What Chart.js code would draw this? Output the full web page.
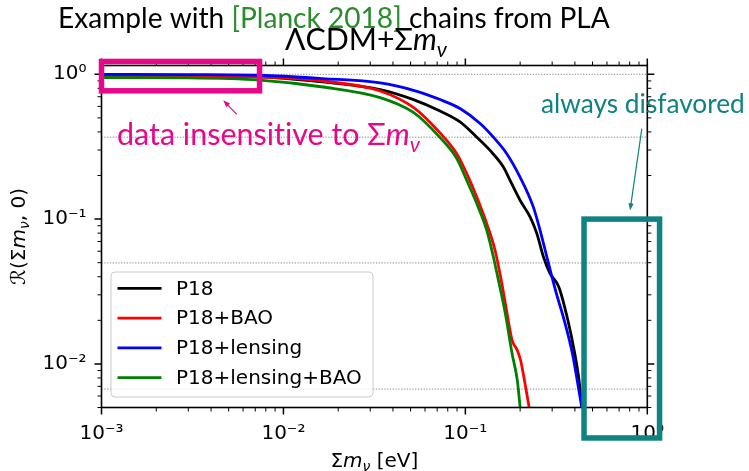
<!DOCTYPE html>
<html>
<head>
<meta charset="utf-8">
<script src="https://cdn.jsdelivr.net/npm/chart.js@4.4.0/dist/chart.umd.min.js"></script>
<style>
  html, body { margin: 0; padding: 0; background: #ffffff; }
  #wrap { width: 749px; height: 471px; }
</style>
</head>
<body>
<div id="wrap"><canvas id="chart" width="749" height="471"></canvas></div>
<script>
// Normalised ratio R(Σmν, 0) against the summed neutrino mass Σmν [eV]
const p18Mass  = [0.001, 0.003, 0.0074, 0.0165, 0.034, 0.0518, 0.0726, 0.0935, 0.1155, 0.1367, 0.1618, 0.1761, 0.1998, 0.2268, 0.2469, 0.2685, 0.2922, 0.3263, 0.3657, 0.3993, 0.4216, 0.4378];
const p18Ratio = [0.975, 0.972, 0.962, 0.885, 0.784, 0.669, 0.558, 0.469, 0.368, 0.298, 0.229, 0.185, 0.135, 0.1035, 0.0797, 0.0550, 0.0421, 0.0340, 0.0201, 0.0118, 0.0077, 0.0049];

const baoMass  = [0.001, 0.003, 0.0074, 0.0165, 0.034, 0.0518, 0.0726, 0.0897, 0.1018, 0.1155, 0.1311, 0.1456, 0.1586, 0.1658, 0.1806, 0.1930, 0.2012, 0.2108, 0.2249];
const baoRatio = [0.975, 0.972, 0.958, 0.899, 0.767, 0.590, 0.393, 0.283, 0.206, 0.142, 0.093, 0.0609, 0.036, 0.0262, 0.0146, 0.0124, 0.0106, 0.0078, 0.0049];

const lensMass  = [0.001, 0.003, 0.0074, 0.0165, 0.034, 0.0518, 0.0726, 0.0935, 0.1205, 0.1425, 0.1689, 0.1998, 0.2365, 0.2575, 0.2839, 0.3152, 0.3495, 0.3876, 0.4180, 0.4378];
const lensRatio = [1.0, 0.995, 0.985, 0.934, 0.871, 0.775, 0.669, 0.580, 0.457, 0.368, 0.283, 0.195, 0.121, 0.0837, 0.0516, 0.0312, 0.0200, 0.0118, 0.0069, 0.0049];

const lensBaoMass  = [0.001, 0.003, 0.0074, 0.0165, 0.034, 0.0518, 0.0726, 0.0897, 0.1018, 0.1155, 0.1311, 0.1425, 0.1499, 0.1658, 0.1806, 0.1930, 0.2004];
const lensBaoRatio = [0.95, 0.945, 0.912, 0.817, 0.690, 0.545, 0.365, 0.262, 0.185, 0.128, 0.0837, 0.0550, 0.041, 0.0223, 0.0118, 0.0077, 0.0049];

const seriesLabels = ['P18', 'P18+BAO', 'P18+lensing', 'P18+lensing+BAO'];
const seriesColors = ['#000000', '#ff0000', '#0000ff', '#008000'];

// Reference levels exp(0), exp(-1), exp(-3), exp(-5)
const referenceLevels = [1, 0.3679, 0.0498, 0.0067];

// Axis ranges and decade tick positions
const massRange  = [0.001, 1];
const ratioRange = [0.005, 1.15];
const massDecades  = [0.001, 0.01, 0.1, 1];
const ratioDecades = [0.01, 0.1, 1];

// Highlighted regions, in data units: [Σmν low, Σmν high], [R low, R high]
const insensitiveRegion = { mass: [0.001, 0.00739], ratio: [0.769, 1.226] };
const disfavoredRegion  = { mass: [0.449, 1.168], ratio: [0.00308, 0.1] };

const SERIF_LIKE = "Lato, 'Open Sans', sans-serif";
const HEAD_WEIGHT = '';
const MATH_FONT = "'DejaVu Sans'";
const MAGENTA = '#e6078a';
const TEAL = '#0f8282';
const PLANCK_GREEN = '#2a8c2a';

const SUP = { '-': '\u207B', '0': '\u2070', '1': '\u00B9', '2': '\u00B2', '3': '\u00B3', '4': '\u2074', '5': '\u2075', '6': '\u2076', '7': '\u2077', '8': '\u2078', '9': '\u2079' };
function decadeLabel(v) {
  const e = String(Math.round(Math.log10(v)));
  return '10' + e.split('').map(c => SUP[c]).join('');
}

const toPoints = (xs, ys) => xs.map((x, i) => ({ x, y: ys[i] }));
const seriesData = [
  toPoints(p18Mass, p18Ratio),
  toPoints(baoMass, baoRatio),
  toPoints(lensMass, lensRatio),
  toPoints(lensBaoMass, lensBaoRatio)
];

const datasets = [];
referenceLevels.forEach(level => {
  datasets.push({
    label: '',
    data: [{ x: massRange[0], y: level }, { x: massRange[1], y: level }],
    borderColor: '#8a8a8a',
    borderWidth: 1,
    borderDash: [1.3, 1.5],
    pointRadius: 0,
    order: 10
  });
});
seriesData.forEach((pts, i) => {
  datasets.push({
    label: seriesLabels[i],
    data: pts,
    borderColor: seriesColors[i],
    backgroundColor: seriesColors[i],
    borderWidth: 2.8,
    pointRadius: 0,
    cubicInterpolationMode: 'monotone',
    order: 4 - i
  });
});

// ---- rich text helper (normal / italic / subscript runs) ----
function runFont(run, size, family, weight) {
  const s = run.sub ? size * 0.7 : size;
  return (run.italic ? 'italic ' : '') + (weight || '') + s + 'px ' + family;
}
function richWidth(ctx, runs, size, family, weight) {
  let w = 0;
  runs.forEach(r => { ctx.font = runFont(r, size, family, weight); w += ctx.measureText(r.t).width; });
  return w;
}
function drawRich(ctx, runs, x, y, size, family, color, align, weight) {
  const w = richWidth(ctx, runs, size, family, weight);
  let cx = align === 'center' ? x - w / 2 : x;
  ctx.textBaseline = 'alphabetic';
  ctx.textAlign = 'left';
  runs.forEach(r => {
    ctx.font = runFont(r, size, family, weight);
    ctx.fillStyle = r.color || color;
    ctx.fillText(r.t, cx, y + (r.sub ? size * 0.22 : 0));
    cx += ctx.measureText(r.t).width;
  });
}
// size a run list so it spans the given width
function sizeForWidth(ctx, runs, family, width, weight) {
  const base = 20;
  return base * width / richWidth(ctx, runs, base, family, weight);
}
function drawHeading(ctx, runs, x, y, width, color) {
  ctx.save();
  if ('textRendering' in ctx) ctx.textRendering = 'optimizeSpeed';
  const size = sizeForWidth(ctx, runs, SERIF_LIKE, width, HEAD_WEIGHT);
  drawRich(ctx, runs, x, y, size, SERIF_LIKE, color, 'left', HEAD_WEIGHT);
  ctx.restore();
}

function arrow(ctx, x0, y0, x1, y1, color) {
  const ang = Math.atan2(y1 - y0, x1 - x0);
  const len = 7, half = 2.6;
  ctx.strokeStyle = color;
  ctx.fillStyle = color;
  ctx.lineWidth = 1.2;
  ctx.beginPath();
  ctx.moveTo(x0, y0);
  ctx.lineTo(x1 - Math.cos(ang) * len * 0.8, y1 - Math.sin(ang) * len * 0.8);
  ctx.stroke();
  ctx.beginPath();
  ctx.moveTo(x1, y1);
  ctx.lineTo(x1 - Math.cos(ang) * len - Math.sin(ang) * half, y1 - Math.sin(ang) * len + Math.cos(ang) * half);
  ctx.lineTo(x1 - Math.cos(ang) * len + Math.sin(ang) * half, y1 - Math.sin(ang) * len - Math.cos(ang) * half);
  ctx.closePath();
  ctx.fill();
}

function minorValues(min, max) {
  const out = [];
  for (let e = Math.floor(Math.log10(min)); e <= Math.ceil(Math.log10(max)); e++) {
    for (let k = 1; k <= 9; k++) {
      const v = k * Math.pow(10, e);
      if (v >= min * 0.9999 && v <= max * 1.0001) out.push({ v, major: k === 1 });
    }
  }
  return out;
}

const decorations = {
  id: 'decorations',
  afterDraw(chart) {
    const { ctx, chartArea: a, scales: { x, y } } = chart;
    ctx.save();

    // frame
    ctx.strokeStyle = '#000';
    ctx.lineWidth = 1.6;
    ctx.strokeRect(a.left, a.top, a.right - a.left, a.bottom - a.top);

    // outward ticks on all four sides
    minorValues(massRange[0], massRange[1]).forEach(t => {
      const px = x.getPixelForValue(t.v);
      const L = t.major ? 7 : 4;
      ctx.lineWidth = t.major ? 1.5 : 1;
      ctx.beginPath();
      ctx.moveTo(px, a.bottom); ctx.lineTo(px, a.bottom + L);
      ctx.moveTo(px, a.top); ctx.lineTo(px, a.top - L);
      ctx.stroke();
    });
    minorValues(ratioRange[0], ratioRange[1]).forEach(t => {
      const py = y.getPixelForValue(t.v);
      const L = t.major ? 7 : 4;
      ctx.lineWidth = t.major ? 1.5 : 1;
      ctx.beginPath();
      ctx.moveTo(a.left, py); ctx.lineTo(a.left - L, py);
      ctx.moveTo(a.right, py); ctx.lineTo(a.right + L, py);
      ctx.stroke();
    });

    // legend, lower left inside the axes
    const lx = a.left + 9.5, lw = 262, lh = 125, ly = a.bottom - 10.5 - lh;
    ctx.beginPath();
    ctx.roundRect(lx, ly, lw, lh, 4);
    ctx.fillStyle = 'rgba(255,255,255,0.8)';
    ctx.fill();
    ctx.strokeStyle = '#cccccc';
    ctx.lineWidth = 1;
    ctx.stroke();
    seriesLabels.forEach((lab, i) => {
      const ry = ly + 16.3 + i * 29.8;
      ctx.strokeStyle = seriesColors[i];
      ctx.lineWidth = 2.8;
      ctx.beginPath();
      ctx.moveTo(lx + 6.5, ry); ctx.lineTo(lx + 50.5, ry);
      ctx.stroke();
      ctx.fillStyle = '#000';
      ctx.font = '20px ' + MATH_FONT;
      ctx.textAlign = 'left';
      ctx.textBaseline = 'middle';
      ctx.fillText(lab, lx + 65, ry + 1);
    });

    // axis titles
    const axisX = [{ t: '\u03A3' }, { t: 'm', italic: true }, { t: '\u03BD', italic: true, sub: true }, { t: ' [eV]' }];
    drawRich(ctx, axisX, (a.left + a.right) / 2, 466.5, 20, MATH_FONT, '#000', 'center');
    const axisY = [{ t: '\u211B(\u03A3' }, { t: 'm', italic: true }, { t: '\u03BD', italic: true, sub: true }, { t: ', 0)' }];
    ctx.save();
    ctx.translate(25, (a.top + a.bottom) / 2);
    ctx.rotate(-Math.PI / 2);
    drawRich(ctx, axisY, 0, 0, 20, MATH_FONT, '#000', 'center');
    ctx.restore();

    // headings
    drawHeading(ctx, [{ t: 'Example with ' }, { t: '[Planck 2018]', color: PLANCK_GREEN }, { t: ' chains from PLA' }], 58, 28.3, 552, '#000');
    drawHeading(ctx, [{ t: '\u039BCDM+\u03A3' }, { t: 'm', italic: true }, { t: '\u03BD', italic: true, sub: true }], 285, 50, 162, '#000');

    // annotations
    drawHeading(ctx, [{ t: 'data insensitive to \u03A3' }, { t: 'm', italic: true }, { t: '\u03BD', italic: true, sub: true }], 117, 145, 303, MAGENTA);
    drawHeading(ctx, [{ t: 'always disfavored' }], 541, 113, 204, TEAL);

    const box = (r, color) => {
      const x0 = x.getPixelForValue(r.mass[0]), x1 = x.getPixelForValue(r.mass[1]);
      const y0 = y.getPixelForValue(r.ratio[1]), y1 = y.getPixelForValue(r.ratio[0]);
      ctx.strokeStyle = color;
      ctx.lineWidth = 5.5;
      ctx.lineJoin = 'miter';
      ctx.strokeRect(x0, y0, x1 - x0, y1 - y0);
    };
    box(insensitiveRegion, MAGENTA);
    box(disfavoredRegion, TEAL);

    arrow(ctx, x.getPixelForValue(0.00554), y.getPixelForValue(0.529), x.getPixelForValue(0.00467), y.getPixelForValue(0.661), MAGENTA);
    arrow(ctx, x.getPixelForValue(0.933), y.getPixelForValue(0.4217), x.getPixelForValue(0.804), y.getPixelForValue(0.1148), TEAL);

    ctx.restore();
  }
};

new Chart(document.getElementById('chart'), {
  type: 'line',
  data: { datasets },
  options: {
    responsive: false,
    animation: false,
    devicePixelRatio: 1,
    layout: { padding: { left: 0, top: 65.5, right: 101.7, bottom: 0 } },
    plugins: { legend: { display: false }, tooltip: { enabled: false }, title: { display: false } },
    scales: {
      x: {
        type: 'logarithmic',
        min: massRange[0], max: massRange[1],
        grid: { display: false, drawTicks: false },
        border: { display: false },
        afterBuildTicks: s => { s.ticks = massDecades.map(v => ({ value: v })); },
        afterFit: s => { s.height = 63.5; },
        ticks: { autoSkip: false, maxRotation: 0, padding: 14, color: '#000',
                 font: { family: 'DejaVu Sans', size: 20 }, callback: v => decadeLabel(v) }
      },
      y: {
        type: 'logarithmic',
        min: ratioRange[0], max: ratioRange[1],
        grid: { display: false, drawTicks: false },
        border: { display: false },
        afterBuildTicks: s => { s.ticks = ratioDecades.map(v => ({ value: v })); },
        afterFit: s => { s.width = 101.5; },
        ticks: { autoSkip: false, padding: 15, color: '#000',
                 font: { family: 'DejaVu Sans', size: 20 }, callback: v => decadeLabel(v) }
      }
    }
  },
  plugins: [decorations]
});
</script>
</body>
</html>
